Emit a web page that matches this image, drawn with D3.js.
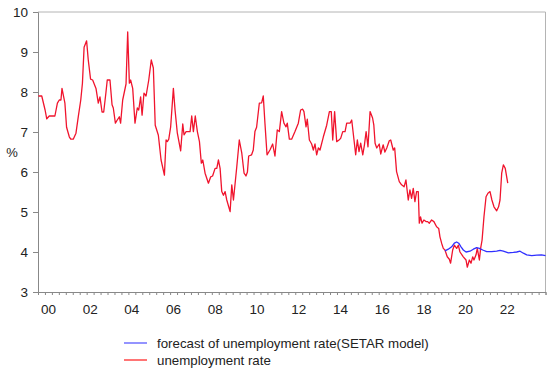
<!DOCTYPE html>
<html>
<head>
<meta charset="utf-8">
<script src="https://cdn.jsdelivr.net/npm/d3@7"></script>
<style>
  body { margin: 0; background: #fff; }
  text { font-family: "Liberation Sans", Arial, sans-serif; fill: #222; }
</style>
</head>
<body>
<script>
// unemployment rate (decimal years, %)
const rateT = [2000.02,2000.18,2000.34,2000.42,2000.54,2000.74,2000.81,2000.93,2001.02,2001.1,2001.15,2001.29,2001.37,2001.5,2001.57,2001.69,2001.82,2001.93,
  2002.05,2002.13,2002.21,2002.33,2002.41,2002.52,2002.62,2002.78,2002.89,2002.97,2003.07,2003.15,2003.26,2003.32,2003.45,2003.55,2003.61,2003.71,2003.8,2003.9,2003.96,
  2004.06,2004.22,2004.3,2004.38,2004.44,2004.54,2004.65,2004.76,2004.83,2004.92,2004.99,2005.08,2005.18,2005.31,2005.43,2005.53,2005.62,2005.77,2005.9,
  2006.06,2006.14,2006.2,2006.27,2006.36,2006.49,2006.57,2006.68,2006.84,2006.94,2007.0,2007.1,2007.29,2007.37,2007.45,2007.54,2007.64,2007.74,2007.83,2007.9,
  2008.01,2008.17,2008.28,2008.37,2008.49,2008.57,2008.65,2008.73,2008.81,2008.89,2008.97,2009.05,2009.21,2009.29,2009.37,2009.53,2009.65,2009.77,2009.88,2009.97,
  2010.04,2010.1,2010.24,2010.32,2010.4,2010.48,2010.61,2010.72,2010.8,2010.88,2010.98,2011.12,2011.25,2011.36,2011.47,2011.57,2011.68,2011.79,2011.89,2011.95,
  2012.05,2012.16,2012.32,2012.48,2012.59,2012.69,2012.75,2012.85,2012.91,2013.01,2013.12,2013.2,2013.28,2013.36,2013.44,2013.52,2013.68,2013.84,2013.97,
  2014.06,2014.13,2014.22,2014.32,2014.43,2014.51,2014.61,2014.72,2014.8,2014.96,2015.04,2015.15,2015.23,2015.31,2015.39,2015.47,2015.57,2015.65,2015.73,2015.82,2015.92,
  2016.04,2016.1,2016.16,2016.24,2016.36,2016.43,2016.48,2016.55,2016.63,2016.72,2016.84,2016.91,2017.03,2017.1,2017.19,2017.32,2017.43,2017.55,2017.64,2017.75,2017.83,2017.91,2017.99,
  2018.07,2018.15,2018.23,2018.28,2018.34,2018.41,2018.5,2018.6,2018.68,2018.76,2018.87,2018.98,2019.11,2019.21,2019.27,2019.35,2019.43,2019.51,2019.62,2019.72,2019.78,2019.88,2019.96,
  2020.07,2020.15,2020.23,2020.39,2020.52,2020.58,2020.68,2020.76,2020.84,2020.9,2021.0,2021.06,2021.16,2021.22,2021.29,2021.38,2021.48,2021.57,2021.67,2021.76,2021.86,2021.99,
  2022.08,2022.15,2022.23,2022.31,2022.4,2022.52];
const rateV = [7.9,7.9,7.55,7.33,7.4,7.4,7.4,7.72,7.8,7.8,8.09,7.72,7.12,6.88,6.82,6.82,6.97,7.38,
  7.8,8.22,9.12,9.28,8.8,8.32,8.3,8.09,7.72,7.88,7.5,7.5,8.0,8.3,8.3,7.68,7.6,7.22,7.3,7.38,7.22,
  7.8,8.2,9.5,8.22,8.3,8.09,7.22,7.6,7.55,7.88,7.42,7.97,7.9,8.3,8.8,8.6,7.17,6.92,6.3,
  5.92,6.8,6.76,6.82,7.13,8.09,7.55,6.97,6.53,7.2,6.93,7.01,7.01,7.4,7.01,7.4,7.01,6.76,6.22,6.3,
  5.97,5.72,5.88,5.9,6.09,6.09,6.3,6.09,5.51,5.42,5.51,5.3,5.01,5.68,5.3,6.13,6.8,6.47,5.97,5.9,
  6.0,6.4,6.43,6.55,7.01,7.12,7.72,7.73,7.9,7.22,6.43,6.55,6.7,6.4,7.05,7.01,7.51,7.22,7.13,7.22,
  6.82,6.82,7.01,7.22,7.55,7.57,7.51,7.13,7.32,6.8,6.7,6.55,6.7,6.43,6.6,6.55,6.88,7.17,7.51,
  7.51,6.8,7.51,6.76,6.8,6.84,7.01,7.01,7.22,7.22,7.3,6.8,6.43,6.8,6.51,6.72,6.43,6.68,7.01,6.63,7.51,
  7.35,7.17,6.72,6.6,6.7,6.45,6.55,6.68,6.5,6.6,6.78,6.8,6.55,6.6,6.01,5.76,5.68,5.63,5.8,5.3,5.55,5.34,5.59,
  5.26,5.51,5.51,4.72,4.88,4.72,4.8,4.76,4.76,4.72,4.8,4.76,4.63,4.59,4.38,4.22,4.09,4.05,3.88,3.82,3.72,4.05,4.17,
  4.09,4.17,4.0,3.88,3.8,3.62,3.8,3.72,3.88,3.8,3.93,4.09,3.8,4.09,4.3,4.88,5.38,5.47,5.51,5.3,5.13,5.03,
  5.13,5.3,5.97,6.18,6.09,5.72];

// forecast of unemployment rate (SETAR model)
const fcT = [2019.51,2019.67,2019.83,2019.96,2020.07,2020.17,2020.28,2020.39,2020.52,2020.71,2020.87,2021.03,2021.16,2021.32,2021.51,2021.75,2021.99,2022.15,2022.31,2022.55,2022.79,2022.95,2023.11,2023.27,2023.43,2023.67,2023.91,2024.14,2024.33];
const fcV = [4.03,4.07,4.13,4.22,4.25,4.22,4.13,4.05,4.0,4.02,4.07,4.11,4.09,4.05,4.01,4.01,4.02,4.04,4.02,3.98,3.99,4.0,4.02,3.97,3.93,3.91,3.92,3.93,3.91];

const yTicks = [3, 4, 5, 6, 7, 8, 9, 10];
const xLabels = ["00", "02", "04", "06", "08", "10", "12", "14", "16", "18", "20", "22"];
const xLabelYears = [2000, 2002, 2004, 2006, 2008, 2010, 2012, 2014, 2016, 2018, 2020, 2022];

const width = 550, height = 373;
const plotL = 38, plotR = 545.5, plotT = 12, plotB = 292;

const svg = d3.select("body").append("svg")
    .attr("width", width)
    .attr("height", height);

const x = d3.scaleLinear().domain([2000, 2024.33]).range([plotL, plotR]);
const y = d3.scaleLinear().domain([3, 10]).range([plotB, plotT]);

// frame (top and right borders are lighter)
svg.append("path")
    .attr("d", `M${plotL},${plotT}H${plotR}V${plotB}`)
    .attr("fill", "none")
    .attr("stroke", "#b4b4b4")
    .attr("stroke-width", 1);

// y axis
const yAxis = svg.append("g")
    .attr("transform", `translate(${plotL},0)`)
    .call(d3.axisLeft(y).tickValues(yTicks).tickSize(5).tickPadding(5).tickFormat(d3.format("d")));
yAxis.select(".domain").attr("stroke", "#888");
yAxis.selectAll(".tick line").attr("stroke", "#888");
yAxis.selectAll("text")
    .style("font-size", "13.5px")
    .attr("fill", "#222");

svg.append("text")
    .attr("x", 12)
    .attr("y", 157)
    .attr("text-anchor", "middle")
    .style("font-size", "13px")
    .text("%");

// x axis: small ticks every 4 months, year labels centred in the year
const minor = d3.range(2000, 2024.34, 1 / 3);
const xAxis = svg.append("g")
    .attr("transform", `translate(0,${plotB})`)
    .call(d3.axisBottom(x).tickValues(minor).tickSize(3).tickFormat(""));
xAxis.select(".domain").attr("stroke", "#888");
xAxis.selectAll(".tick line").attr("stroke", "#888");

svg.append("g")
    .selectAll("text")
    .data(xLabelYears)
    .enter().append("text")
    .attr("x", function(d) { return x(d + 0.5); })
    .attr("y", 314)
    .attr("text-anchor", "middle")
    .style("font-size", "13.5px")
    .text(function(d, i) { return xLabels[i]; });

// lines
const line = d3.line()
    .x(function(d) { return x(d[0]); })
    .y(function(d) { return y(d[1]); });

svg.append("path")
    .datum(rateT.map(function(t, i) { return [t, rateV[i]]; }))
    .attr("fill", "none")
    .attr("stroke", "#f0142d")
    .attr("stroke-width", 1.3)
    .attr("stroke-linejoin", "round")
    .attr("d", line);

svg.append("path")
    .datum(fcT.map(function(t, i) { return [t, fcV[i]]; }))
    .attr("fill", "none")
    .attr("stroke", "#3030ff")
    .attr("stroke-width", 1.3)
    .attr("stroke-linejoin", "round")
    .attr("d", line);

// legend
const legend = [
    { name: "forecast of unemployment rate(SETAR model)", colour: "#5a5aff" },
    { name: "unemployment rate", colour: "#ff2a2a" }
];
const lg = svg.append("g").selectAll("g")
    .data(legend)
    .enter().append("g")
    .attr("transform", function(d, i) { return "translate(124," + (343 + i * 17) + ")"; });
lg.append("line")
    .attr("x1", 0).attr("x2", 23)
    .attr("stroke", function(d) { return d.colour; })
    .attr("stroke-width", 1.3);
lg.append("text")
    .attr("x", 33)
    .attr("y", 4.5)
    .style("font-size", "13.3px")
    .text(function(d) { return d.name; });
</script>
</body>
</html>
